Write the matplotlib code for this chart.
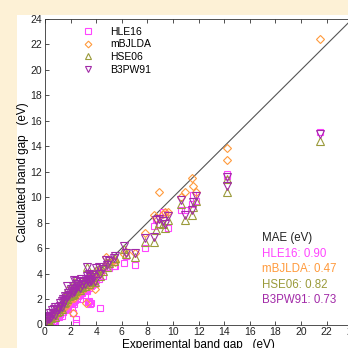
import matplotlib
matplotlib.use("Agg")
import matplotlib.pyplot as plt
from matplotlib.patches import Rectangle

plt.rcParams['font.family'] = ['Liberation Sans', 'DejaVu Sans']

# Experimental band gaps (eV)
exp_gap = [0.10, 0.15, 0.20, 0.25, 0.30, 0.35, 0.40, 0.50, 0.55, 0.60, 0.70, 0.75, 0.80, 0.90, 1.00,
           1.10, 1.15, 1.20, 1.30, 1.35, 1.40, 1.50, 1.55, 1.60, 1.70, 1.75, 1.80, 1.90, 2.00,
           2.10, 2.15, 2.20, 2.25, 2.30, 2.35, 2.40, 2.45, 2.50, 2.60, 2.70, 2.75, 2.80, 2.90, 3.00,
           3.10, 3.20, 3.25, 3.30, 3.35, 3.40, 3.45, 3.50, 3.57, 3.60, 3.70, 3.80, 3.90, 4.00,
           4.20, 4.30, 4.50, 4.80, 4.85, 5.00, 5.40, 5.50, 6.20, 6.30, 7.00, 7.80,
           8.50, 8.70, 8.90, 9.20, 9.40, 9.60, 10.60, 10.90, 11.50, 11.60, 11.80,
           14.20, 14.20, 21.50]

hle16 = [0.05, 0.30, 0.00, 0.50, 0.20, 0.10, 0.30, 0.15, 0.60, 0.20, 0.30, 0.50, 0.10, 0.60, 0.75,
         0.55, 0.90, 0.85, 1.00, 0.70, 0.96, 1.20, 1.10, 1.40, 1.30, 1.50, 1.25, 1.60, 1.70,
         1.40, 0.88, 1.80, 1.60, 2.00, 1.90, 0.10, 0.40, 2.10, 2.20, 2.30, 2.00, 2.45, 2.50, 2.60,
         2.30, 2.70, 2.90, 2.60, 1.80, 2.90, 1.82, 1.60, 1.67, 3.00, 3.10, 3.30, 3.20, 3.50,
         3.60, 1.27, 3.80, 4.55, 4.80, 4.40, 4.60, 4.60, 4.85, 5.40, 4.70, 6.00,
         7.70, 8.30, 7.80, 8.86, 8.70, 7.55, 9.00, 9.00, 9.50, 10.20, 9.70,
         11.80, 11.70, 15.10]

mbjlda = [0.15, 0.10, 0.25, 0.20, 0.30, 0.45, 0.50, 0.40, 0.70, 0.55, 0.90, 0.70, 0.85, 1.10, 1.05,
          1.20, 1.40, 1.00, 1.45, 1.20, 1.50, 1.60, 1.40, 1.75, 1.90, 1.60, 2.00, 1.85, 2.20,
          2.05, 0.88, 2.40, 2.10, 2.50, 2.30, 2.60, 2.35, 2.70, 2.50, 2.80, 2.60, 3.00, 2.75, 3.10,
          2.90, 1.67, 3.30, 3.20, 3.40, 3.60, 3.00, 3.50, 3.20, 3.80, 3.30, 4.00, 2.80, 4.20,
          4.10, 4.00, 4.40, 5.28, 4.80, 4.80, 5.07, 4.90, 5.50, 5.70, 5.60, 7.20,
          8.60, 8.40, 10.43, 8.70, 8.80, 8.80, 10.00, 10.43, 11.53, 10.90, 10.40,
          13.90, 12.90, 22.40]

hse06 = [0.20, 0.10, 0.35, 0.40, 0.55, 0.30, 0.70, 0.50, 0.90, 0.75, 1.00, 0.60, 1.20, 0.95, 1.30,
         1.05, 1.50, 1.35, 1.70, 1.25, 1.90, 1.65, 2.10, 1.80, 2.70, 2.00, 2.35, 2.20, 2.60,
         2.30, 2.50, 2.90, 2.40, 3.35, 2.60, 3.30, 2.70, 3.00, 2.85, 3.10, 2.70, 3.40, 2.95, 3.20,
         3.00, 3.40, 3.60, 4.50, 3.30, 3.80, 3.20, 3.60, 3.30, 3.40, 3.70, 3.50, 3.30, 4.30,
         4.40, 3.80, 4.20, 4.90, 4.50, 4.80, 5.00, 5.20, 5.90, 5.50, 5.30, 6.50,
         6.50, 7.40, 8.00, 7.90, 7.55, 8.20, 9.50, 8.20, 8.60, 9.20, 9.70,
         11.40, 10.40, 14.40]

b3pw91 = [0.30, 0.45, 0.50, 0.60, 0.70, 0.40, 0.90, 0.60, 1.10, 0.80, 1.20, 0.75, 1.35, 1.10, 1.40,
          1.25, 1.70, 1.45, 1.85, 1.40, 2.00, 1.80, 2.25, 1.95, 3.05, 2.15, 2.50, 2.35, 2.75,
          2.45, 2.60, 3.05, 2.55, 3.50, 2.80, 3.45, 2.85, 3.20, 3.05, 3.30, 2.90, 3.60, 3.10, 3.40,
          3.20, 3.55, 3.80, 4.55, 3.50, 3.95, 3.35, 3.75, 3.45, 3.60, 3.90, 3.70, 3.45, 4.45,
          4.55, 3.95, 4.35, 5.10, 4.70, 5.00, 5.20, 5.40, 6.20, 5.65, 5.60, 6.80,
          6.90, 8.20, 8.30, 8.10, 7.90, 8.50, 9.80, 8.60, 9.00, 9.60, 10.10,
          11.60, 10.90, 15.00]

labels = ['HLE16', 'mBJLDA', 'HSE06', 'B3PW91']
mae = [0.90, 0.47, 0.82, 0.73]
colors = ['#FF44FF', '#FF9A3C', '#9A9A3A', '#A22AA8']
markers = ['s', 'D', '^', 'v']
msizes = [4.4, 4.0, 5.2, 5.2]
series = [hle16, mbjlda, hse06, b3pw91]

fig = plt.figure(figsize=(3.48, 3.48), dpi=100)
fig.patch.set_facecolor('#FDF1D6')
fig.patches.append(Rectangle((17/348, 0), 1, (348-15)/348, transform=fig.transFigure,
                             facecolor='white', edgecolor='none', zorder=-1))

ax = fig.add_axes([45/348, 23.5/348, 307.2/348, 305.5/348])
ax.set_xlim(0, 24)
ax.set_ylim(0, 24)

ax.plot([0, 24], [0, 24], color='#555555', lw=0.8, zorder=1)

for vals, lab, c, m, ms in zip(series, labels, colors, markers, msizes):
    ax.plot(exp_gap, vals, linestyle='none', marker=m, markersize=ms,
            markerfacecolor='none', markeredgecolor=c, markeredgewidth=0.8,
            label=lab, zorder=2)

leg = ax.legend(loc='upper left', bbox_to_anchor=(0.10, 0.995), frameon=False,
                fontsize=7.5, handlelength=1.2, handletextpad=1.5, labelspacing=0.25,
                borderaxespad=0.2, markerscale=0.85)

ax.set_xticks(range(0, 25, 2))
ax.set_yticks(range(0, 25, 2))
ax.tick_params(axis='both', labelsize=7.5, direction='in', length=3, width=0.6,
               top=True, right=True, pad=2, colors='#333333', labelcolor='#222222')
for s in ax.spines.values():
    s.set_linewidth(0.6)
    s.set_color('#333333')

ax.set_xlabel('Experimental band gap   (eV)', fontsize=8.5, labelpad=1)
ax.set_ylabel('Calculated band gap   (eV)', fontsize=8.5, labelpad=1)

ax.text(0.708, 0.272, 'MAE (eV)', transform=ax.transAxes, fontsize=8.3, color='#222222')
for i, (lab, v, c) in enumerate(zip(labels, mae, colors)):
    ax.text(0.708, 0.222 - 0.051 * i, f'{lab}: {v:.2f}', transform=ax.transAxes,
            fontsize=8.3, color=c)

fig.savefig('out.png', dpi=100, facecolor=fig.get_facecolor())
